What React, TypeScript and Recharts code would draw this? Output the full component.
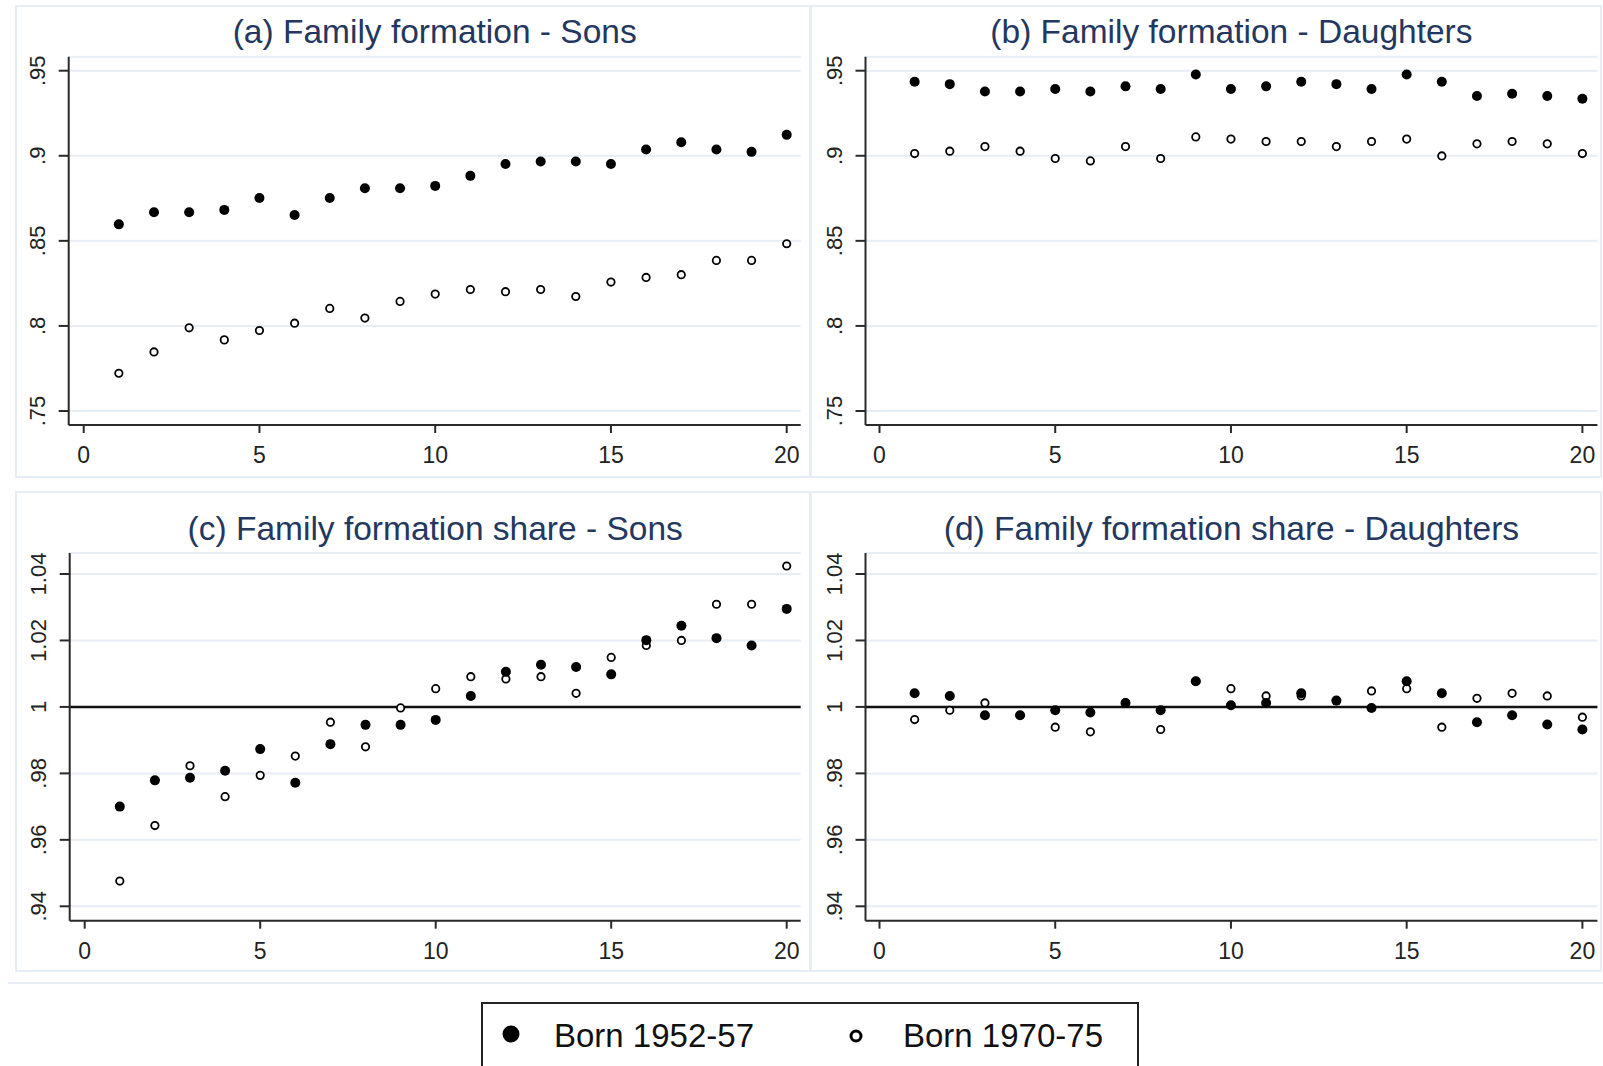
import React from 'react';
import { ScatterChart, Scatter, XAxis, YAxis, CartesianGrid, ReferenceLine } from 'recharts';

const FONT = '"Liberation Sans", Arial, Helvetica, sans-serif';
const TITLE_COLOR = '#24385f';
const GRID_COLOR = '#e6edf5';
const AXIS_COLOR = '#2a2a2a';

// years since birth (x)
const years = [1, 2, 3, 4, 5, 6, 7, 8, 9, 10, 11, 12, 13, 14, 15, 16, 17, 18, 19, 20];

// (a) sons
const sonsOld = [0.8597, 0.8668, 0.8668, 0.8682, 0.8752, 0.8652, 0.8752, 0.8809, 0.8809, 0.8823, 0.8882, 0.8952, 0.8966, 0.8966, 0.8952, 0.9037, 0.908, 0.9037, 0.9023, 0.9123];
const sonsYoung = [0.7722, 0.7847, 0.7989, 0.7918, 0.7973, 0.8016, 0.8103, 0.8046, 0.8144, 0.8187, 0.8214, 0.8201, 0.8214, 0.8173, 0.8258, 0.8285, 0.8301, 0.8385, 0.8385, 0.8483];
// (b) daughters
const daughtersOld = [0.9435, 0.9421, 0.9378, 0.9378, 0.9392, 0.9378, 0.9408, 0.9392, 0.9478, 0.9392, 0.9408, 0.9435, 0.9421, 0.9392, 0.9478, 0.9435, 0.9351, 0.9365, 0.9351, 0.9335];
const daughtersYoung = [0.9013, 0.9027, 0.9054, 0.9027, 0.8984, 0.897, 0.9054, 0.8984, 0.9111, 0.9098, 0.9084, 0.9084, 0.9054, 0.9084, 0.9098, 0.8999, 0.907, 0.9084, 0.907, 0.9013];
// (c) share - sons
const shareSonsOld = [0.97, 0.9779, 0.9787, 0.9808, 0.9873, 0.9772, 0.9888, 0.9946, 0.9946, 0.9961, 1.0033, 1.0106, 1.0127, 1.012, 1.0098, 1.0201, 1.0244, 1.0207, 1.0185, 1.0295];
const shareSonsYoung = [0.9476, 0.9643, 0.9823, 0.973, 0.9794, 0.9852, 0.9954, 0.988, 0.9997, 1.0055, 1.0091, 1.0084, 1.0091, 1.0041, 1.0149, 1.0185, 1.02, 1.0309, 1.0309, 1.0424];
// (d) share - daughters
const shareDaughtersOld = [1.0041, 1.0033, 0.9975, 0.9975, 0.999, 0.9983, 1.0012, 0.999, 1.0077, 1.0005, 1.0012, 1.0041, 1.0019, 0.9997, 1.0077, 1.0041, 0.9954, 0.9975, 0.9947, 0.9932];
const shareDaughtersYoung = [0.9962, 0.999, 1.0012, 0.9975, 0.9939, 0.9925, 1.0012, 0.9932, 1.0077, 1.0055, 1.0033, 1.0033, 1.0019, 1.0048, 1.0055, 0.9939, 1.0026, 1.0041, 1.0033, 0.9969];

const xTicks = [0, 5, 10, 15, 20];
const levelTicks = [0.75, 0.8, 0.85, 0.9, 0.95];
const levelTickLabels = ['.75', '.8', '.85', '.9', '.95'];
const shareTicks = [0.94, 0.96, 0.98, 1, 1.02, 1.04];
const shareTickLabels = ['.94', '.96', '.98', '1', '1.02', '1.04'];

const seriesNames = ['Born 1952-57', 'Born 1970-75'];
const panelTitles = [
  '(a) Family formation - Sons',
  '(b) Family formation - Daughters',
  '(c) Family formation share - Sons',
  '(d) Family formation share - Daughters',
];

const toPoints = (values: number[]) => years.map((x, i) => ({ x, y: values[i] }));

// widen a [lo, hi] range so that lo/hi sit padLo/padHi pixels inside the plot
const padDomain = (lo: number, hi: number, px: number, padLo: number, padHi: number) => {
  const k = (px - padLo - padHi) / (hi - lo);
  return [lo - padLo / k, hi + padHi / k];
};

const FilledDot = (props: any) => <circle cx={props.cx} cy={props.cy} r={5} fill="#000" />;
const HollowDot = (props: any) => (
  <circle cx={props.cx} cy={props.cy} r={3.7} fill="#fff" stroke="#000" strokeWidth={1.8} />
);

const makeYTick = (ticks: number[], labels: string[]) => (props: any) => {
  const { x, y, payload } = props;
  const i = ticks.findIndex((t) => Math.abs(t - payload.value) < 1e-9);
  const px = x - 21;
  return (
    <text
      x={px}
      y={y}
      transform={`rotate(-90, ${px}, ${y})`}
      textAnchor="middle"
      dominantBaseline="central"
      fontSize={22}
      fill="#222"
      fontFamily={FONT}
    >
      {labels[i]}
    </text>
  );
};

interface PanelProps {
  box: { left: number; top: number; w: number; h: number };
  plot: { axisX: number; top: number; axisY: number; right: number };
  title: string;
  titleY: number;
  old: number[];
  young: number[];
  ticks: number[];
  labels: string[];
  xPad: [number, number];
  yPad: [number, number];
  refLine?: boolean;
}

function Panel({ box, plot, title, titleY, old, young, ticks, labels, xPad, yPad, refLine }: PanelProps) {
  const xAxisH = 40;
  const center = (plot.axisX + plot.right) / 2;
  const xDom = padDomain(xTicks[0], xTicks[xTicks.length - 1], plot.right - plot.axisX, xPad[0], xPad[1]);
  const yDom = padDomain(ticks[0], ticks[ticks.length - 1], plot.axisY - plot.top, yPad[1], yPad[0]);
  return (
    <>
      <div
        style={{
          position: 'absolute',
          left: box.left,
          top: box.top,
          width: box.w,
          height: box.h,
          boxSizing: 'border-box',
          border: `2px solid ${GRID_COLOR}`,
        }}
      />
      <div
        style={{
          position: 'absolute',
          left: center - 450,
          width: 900,
          top: titleY,
          height: 40,
          lineHeight: '40px',
          textAlign: 'center',
          fontSize: 33.5,
          color: TITLE_COLOR,
          fontFamily: FONT,
          whiteSpace: 'nowrap',
        }}
      >
        {title}
      </div>
      <div style={{ position: 'absolute', left: box.left, top: box.top }}>
        <ScatterChart
          width={box.w}
          height={box.h}
          margin={{
            top: plot.top - box.top,
            right: box.left + box.w - plot.right,
            bottom: box.top + box.h - plot.axisY - xAxisH,
            left: 0,
          }}
        >
          <CartesianGrid horizontal vertical={false} stroke={GRID_COLOR} strokeWidth={2} />
          <XAxis
            type="number"
            dataKey="x"
            domain={xDom}
            ticks={xTicks}
            allowDataOverflow
            height={xAxisH}
            tickSize={8}
            tickMargin={14}
            tick={{ fontSize: 23, fill: '#222', fontFamily: FONT }}
            axisLine={{ stroke: AXIS_COLOR, strokeWidth: 2 }}
            tickLine={{ stroke: AXIS_COLOR, strokeWidth: 2 }}
          />
          <YAxis
            type="number"
            dataKey="y"
            domain={yDom}
            ticks={ticks}
            allowDataOverflow
            width={plot.axisX - box.left}
            tickSize={10}
            tickMargin={0}
            tick={makeYTick(ticks, labels)}
            axisLine={{ stroke: AXIS_COLOR, strokeWidth: 2 }}
            tickLine={{ stroke: AXIS_COLOR, strokeWidth: 2 }}
          />
          {refLine && <ReferenceLine y={1} stroke="#111" strokeWidth={2.5} />}
          <Scatter name={seriesNames[1]} data={toPoints(young)} shape={HollowDot} isAnimationActive={false} />
          <Scatter name={seriesNames[0]} data={toPoints(old)} shape={FilledDot} isAnimationActive={false} />
        </ScatterChart>
      </div>
    </>
  );
}

export default function App() {
  return (
    <div
      style={{
        position: 'absolute',
        left: 0,
        top: 0,
        width: 1603,
        height: 1066,
        overflow: 'hidden',
        background: '#fff',
        fontFamily: FONT,
      }}
    >
      <Panel
        box={{ left: 15, top: 5, w: 796, h: 473 }}
        plot={{ axisX: 68.7, top: 56.7, axisY: 425, right: 800.7 }}
        title={panelTitles[0]}
        titleY={12}
        old={sonsOld}
        young={sonsYoung}
        ticks={levelTicks}
        labels={levelTickLabels}
        xPad={[15, 14]}
        yPad={[14, 14]}
      />
      <Panel
        box={{ left: 810, top: 5, w: 792, h: 473 }}
        plot={{ axisX: 865.5, top: 56.7, axisY: 425, right: 1597.4 }}
        title={panelTitles[1]}
        titleY={12}
        old={daughtersOld}
        young={daughtersYoung}
        ticks={levelTicks}
        labels={levelTickLabels}
        xPad={[14, 15]}
        yPad={[14, 14]}
      />
      <Panel
        box={{ left: 15, top: 491, w: 796, h: 481 }}
        plot={{ axisX: 69.7, top: 553, axisY: 920.7, right: 800.7 }}
        title={panelTitles[2]}
        titleY={508.5}
        old={shareSonsOld}
        young={shareSonsYoung}
        ticks={shareTicks}
        labels={shareTickLabels}
        xPad={[15, 14]}
        yPad={[21, 14.4]}
        refLine
      />
      <Panel
        box={{ left: 810, top: 491, w: 792, h: 481 }}
        plot={{ axisX: 865.5, top: 553, axisY: 920.7, right: 1597.4 }}
        title={panelTitles[3]}
        titleY={508.5}
        old={shareDaughtersOld}
        young={shareDaughtersYoung}
        ticks={shareTicks}
        labels={shareTickLabels}
        xPad={[14, 15]}
        yPad={[21, 14.4]}
        refLine
      />
      <div style={{ position: 'absolute', left: 8, top: 982, width: 1595, height: 2, background: GRID_COLOR }} />
      <svg style={{ position: 'absolute', left: 0, top: 0 }} width={1603} height={1066}>
        <rect x={482} y={1003} width={656} height={80} fill="#fff" stroke="#222" strokeWidth={2} />
        <circle cx={511} cy={1034} r={8.5} fill="#000" />
        <text x={554} y={1047} fontSize={33} fill="#111" fontFamily={FONT}>
          {seriesNames[0]}
        </text>
        <circle cx={856} cy={1036} r={5} fill="#fff" stroke="#000" strokeWidth={3} />
        <text x={903} y={1047} fontSize={33} fill="#111" fontFamily={FONT}>
          {seriesNames[1]}
        </text>
      </svg>
    </div>
  );
}
